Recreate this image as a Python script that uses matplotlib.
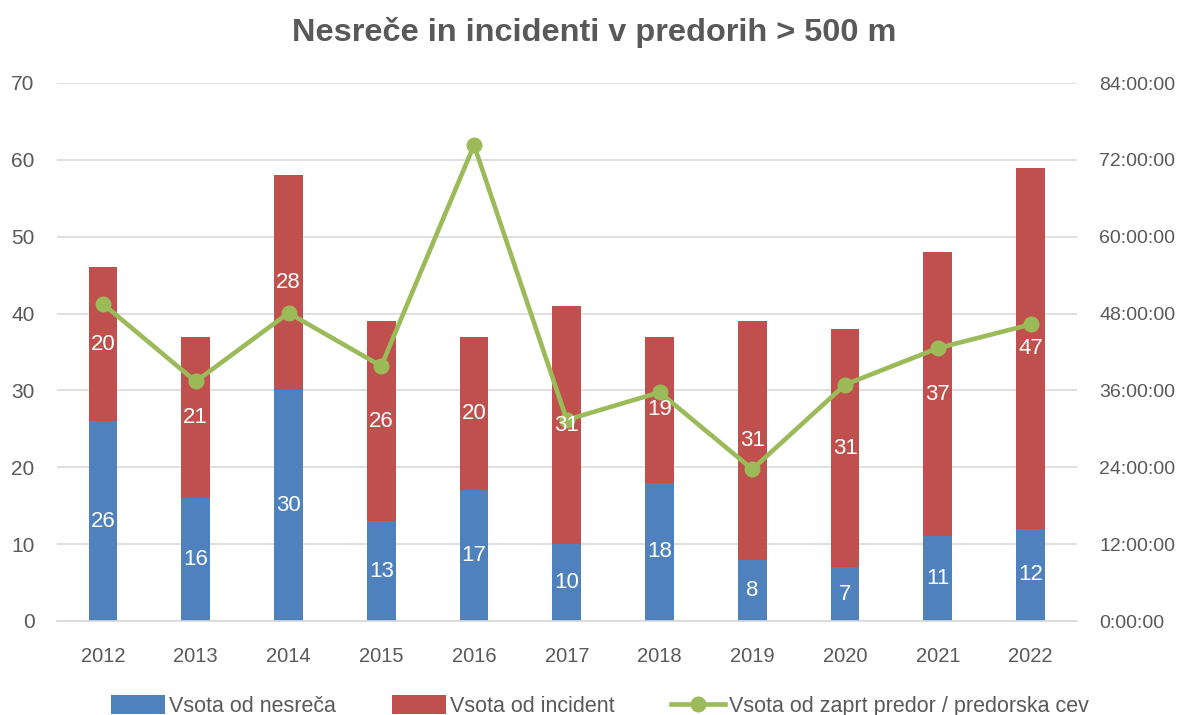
import matplotlib.pyplot as plt
from matplotlib.ticker import FuncFormatter, MultipleLocator

years = ["2012", "2013", "2014", "2015", "2016", "2017", "2018", "2019", "2020", "2021", "2022"]
nesrece = [26, 16, 30, 13, 17, 10, 18, 8, 7, 11, 12]
incidenti = [20, 21, 28, 26, 20, 31, 19, 31, 31, 37, 47]
# zaprt predor v urah (desna os)
zaprt_ure = [49.5, 37.4, 48.1, 39.8, 74.3, 31.4, 35.7, 23.7, 36.9, 42.6, 46.3]

plt.rcParams["font.family"] = ["Liberation Sans", "DejaVu Sans"]

BLUE = "#4F81BD"
RED = "#C0504D"
GREEN = "#9BBB59"
GRAY = "#595959"

fig = plt.figure(figsize=(11.88, 7.15), dpi=100)
ax = fig.add_axes([56.6 / 1188, 1 - 621 / 715, (1077 - 56.6) / 1188, (621 - 83) / 715])

x = list(range(len(years)))
w = 0.31
b1 = ax.bar(x, nesrece, w, color=BLUE, label="Vsota od nesreča", zorder=2)
b2 = ax.bar(x, incidenti, w, bottom=nesrece, color=RED, label="Vsota od incident", zorder=2)

ax.set_xlim(-0.5, len(years) - 0.5)
ax.set_ylim(0, 70)
ax.yaxis.set_major_locator(MultipleLocator(10))
ax.set_xticks(x)
ax.set_xticklabels(years)
ax.grid(axis="y", color="#D9D9D9", linewidth=1.2, zorder=0)
ax.set_axisbelow(True)
for s in ["top", "left", "right"]:
    ax.spines[s].set_visible(False)
ax.spines["bottom"].set_color("#D9D9D9")
ax.spines["bottom"].set_linewidth(1.2)
ax.tick_params(axis="x", length=0, labelsize=14.5, colors=GRAY, pad=19)
ax.tick_params(axis="y", length=0, labelsize=15, colors=GRAY, pad=16)

ax2 = ax.twinx()
ln, = ax2.plot(x, zaprt_ure, color=GREEN, linewidth=3.3, marker="o", markersize=10.5,
               label="Vsota od zaprt predor / predorska cev", zorder=4)
ax2.set_ylim(0, 84)
ax2.yaxis.set_major_locator(MultipleLocator(12))
ax2.yaxis.set_major_formatter(FuncFormatter(lambda v, p: f"{int(v)}:00:00"))
for s in ax2.spines.values():
    s.set_visible(False)
ax2.tick_params(axis="y", length=0, labelsize=14, colors=GRAY, pad=16)

# oznake podatkov nad črto (risane na ax2, v koordinatah leve osi)
for i in x:
    ax2.text(i, nesrece[i] / 2, str(nesrece[i]), ha="center", va="center",
             color="white", fontsize=16, zorder=6, transform=ax.transData)
    ax2.text(i, nesrece[i] + incidenti[i] / 2, str(incidenti[i]), ha="center", va="center",
             color="white", fontsize=16, zorder=6, transform=ax.transData)

fig.text(0.5, 1 - 32 / 715, "Nesreče in incidenti v predorih > 500 m", ha="center", va="center",
         fontsize=23.4, fontweight="bold", color=GRAY)

fig.legend(handles=[b1, b2, ln], loc="center", bbox_to_anchor=(0.505, 1 - 706 / 715), ncol=3,
           frameon=False, fontsize=15.5, labelcolor=GRAY, handlelength=2.5, handleheight=1.0,
           columnspacing=2.6, handletextpad=0.2)

fig.savefig("out.png", dpi=100)
